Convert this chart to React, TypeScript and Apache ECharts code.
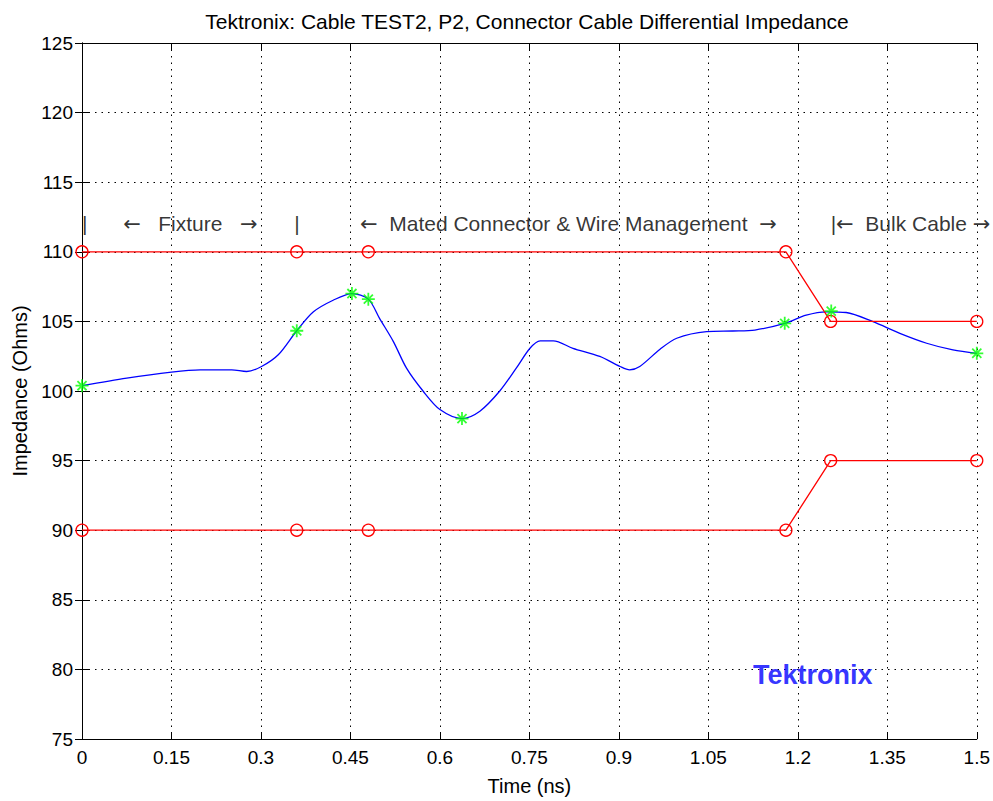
import React, { useEffect, useRef } from "react";
import * as echarts from "echarts";

const titleText = "Tektronix: Cable TEST2, P2, Connector Cable Differential Impedance";
const xName = "Time (ns)";
const yName = "Impedance (Ohms)";

// measured impedance trace
const traceT = [0, 0.075, 0.15, 0.198, 0.251, 0.276, 0.301, 0.329, 0.36, 0.388, 0.421, 0.4525, 0.48, 0.499, 0.522, 0.544, 0.572, 0.6, 0.637, 0.667, 0.7, 0.728, 0.751, 0.768, 0.79, 0.823, 0.868, 0.902, 0.918, 0.935, 0.969, 0.997, 1.047, 1.091, 1.128, 1.178, 1.214, 1.248, 1.281, 1.326, 1.371, 1.416, 1.46, 1.5];
const traceZ = [100.38, 100.93, 101.36, 101.52, 101.52, 101.4, 101.76, 102.6, 104.33, 105.69, 106.52, 107.0, 106.6, 105.2, 103.55, 101.64, 99.98, 98.67, 98.02, 98.55, 99.98, 101.64, 103.07, 103.6, 103.6, 103.07, 102.48, 101.76, 101.52, 101.76, 103.0, 103.79, 104.26, 104.31, 104.38, 104.86, 105.45, 105.69, 105.64, 104.98, 104.14, 103.43, 102.95, 102.71];

// marked points (green stars)
const starT = [0, 0.36, 0.4525, 0.48, 0.637, 1.178, 1.256, 1.5];
const starZ = [100.38, 104.33, 107.0, 106.6, 98.02, 104.86, 105.74, 102.71];

// limit lines (red)
const limitT = [0, 0.36, 0.48, 1.18, 1.255, 1.5];
const upperZ = [110, 110, 110, 110, 105, 105];
const lowerZ = [90, 90, 90, 90, 95, 95];

// region annotations ({a|...} = arrow glyph)
const annoT = [0, 0.069, 0.356, 0.466, 1.255];
const annoZ = [112, 112, 112, 112, 112];
const annoText = [
  "|",
  "{a|←}   Fixture   {a|→}",
  "|",
  "{a|←}  Mated Connector & Wire Management  {a|→}",
  "|{a|←}  Bulk Cable {a|→}",
];

const logoText = "Tektronix";
const logoT = 1.225;
const logoZ = 79.6;

const FONT = "'Liberation Sans', Arial, Helvetica, sans-serif";

export default function App() {
  const ref = useRef<HTMLDivElement>(null);
  useEffect(() => {
    if (!ref.current) return;
    const chart = echarts.init(ref.current, undefined, { renderer: "svg" });
    const zip = (a: number[], b: number[]) => a.map((v, i) => [v, b[i]]);
    const gridLine = { show: true, lineStyle: { color: "#000", type: [1.5, 5] as any, width: 1 } };
    const xCommon = { type: "value" as const, min: 0, max: 1.5, interval: 0.15 };
    const yCommon = { type: "value" as const, min: 75, max: 125, interval: 5 };
    const axisLine = { show: true, lineStyle: { color: "#000", width: 1 } };
    const axisTick = { show: true, inside: true, length: 7, lineStyle: { color: "#000" } };
    chart.setOption({
      animation: false,
      backgroundColor: "#fff",
      title: {
        text: titleText,
        left: 522,
        top: 6,
        textAlign: "center",
        textStyle: { fontFamily: FONT, fontSize: 21, fontWeight: "normal", color: "#000" },
      },
      grid: { left: 82, right: 16, top: 43, bottom: 58 },
      xAxis: [
        {
          ...xCommon,
          position: "bottom",
          name: xName,
          nameLocation: "middle",
          nameGap: 37,
          nameTextStyle: { fontFamily: FONT, fontSize: 20, color: "#000" },
          axisLine,
          axisTick,
          splitLine: gridLine,
          axisLabel: {
            fontFamily: FONT,
            fontSize: 19,
            color: "#000",
            margin: 9,
            formatter: (v: number) => String(parseFloat(v.toFixed(2))),
          },
        },
        {
          ...xCommon,
          position: "top",
          axisLine,
          axisTick,
          splitLine: { show: false },
          axisLabel: { show: false },
        },
      ],
      yAxis: [
        {
          ...yCommon,
          position: "left",
          name: yName,
          nameLocation: "middle",
          nameGap: 51,
          nameTextStyle: { fontFamily: FONT, fontSize: 20, color: "#000" },
          axisLine,
          axisTick,
          splitLine: gridLine,
          axisLabel: { fontFamily: FONT, fontSize: 19, color: "#000", margin: 9 },
        },
        {
          ...yCommon,
          position: "right",
          axisLine,
          axisTick,
          splitLine: { show: false },
          axisLabel: { show: false },
        },
      ],
      series: [
        {
          type: "line",
          data: zip(traceT, traceZ),
          showSymbol: false,
          smooth: 0.3,
          lineStyle: { color: "#0000ff", width: 1.3 },
          z: 2,
        },
        {
          type: "line",
          data: zip(limitT, upperZ),
          symbol: "circle",
          symbolSize: 12,
          itemStyle: { color: "rgba(0,0,0,0)", borderColor: "#ff0000", borderWidth: 1.3 },
          lineStyle: { color: "#ff0000", width: 1.3 },
          z: 3,
        },
        {
          type: "line",
          data: zip(limitT, lowerZ),
          symbol: "circle",
          symbolSize: 12,
          itemStyle: { color: "rgba(0,0,0,0)", borderColor: "#ff0000", borderWidth: 1.3 },
          lineStyle: { color: "#ff0000", width: 1.3 },
          z: 3,
        },
        {
          type: "scatter",
          data: zip(starT, starZ),
          symbol: "path://M5,0 L5,10 M0,5 L10,5 M1.5,1.5 L8.5,8.5 M1.5,8.5 L8.5,1.5",
          symbolSize: 13,
          itemStyle: { color: "rgba(0,0,0,0)", borderColor: "#00ff00", borderWidth: 1.8 },
          z: 4,
        },
        {
          type: "scatter",
          clip: false,
          symbolSize: 0,
          data: annoT.map((t, i) => ({ value: [t, annoZ[i]], name: annoText[i] })),
          label: {
            show: true,
            position: "right",
            distance: 0,
            formatter: (p: any) => p.name,
            fontFamily: FONT,
            fontSize: 21,
            color: "#000",
            rich: {
              a: { fontFamily: "'DejaVu Sans', sans-serif", fontSize: 21, color: "#000" },
            },
          },
          silent: true,
          z: 5,
        },
        {
          type: "scatter",
          clip: false,
          symbolSize: 0,
          data: [{ value: [logoT, logoZ], name: logoText }],
          label: {
            show: true,
            position: "inside",
            formatter: (p: any) => p.name,
            fontFamily: FONT,
            fontSize: 27,
            fontWeight: "bold",
            color: "#0000ff",
          },
          silent: true,
          z: 5,
        },
      ],
    });
    return () => chart.dispose();
  }, []);
  return <div ref={ref} style={{ position: "absolute", left: 0, top: 0, width: 993, height: 801 }} />;
}
